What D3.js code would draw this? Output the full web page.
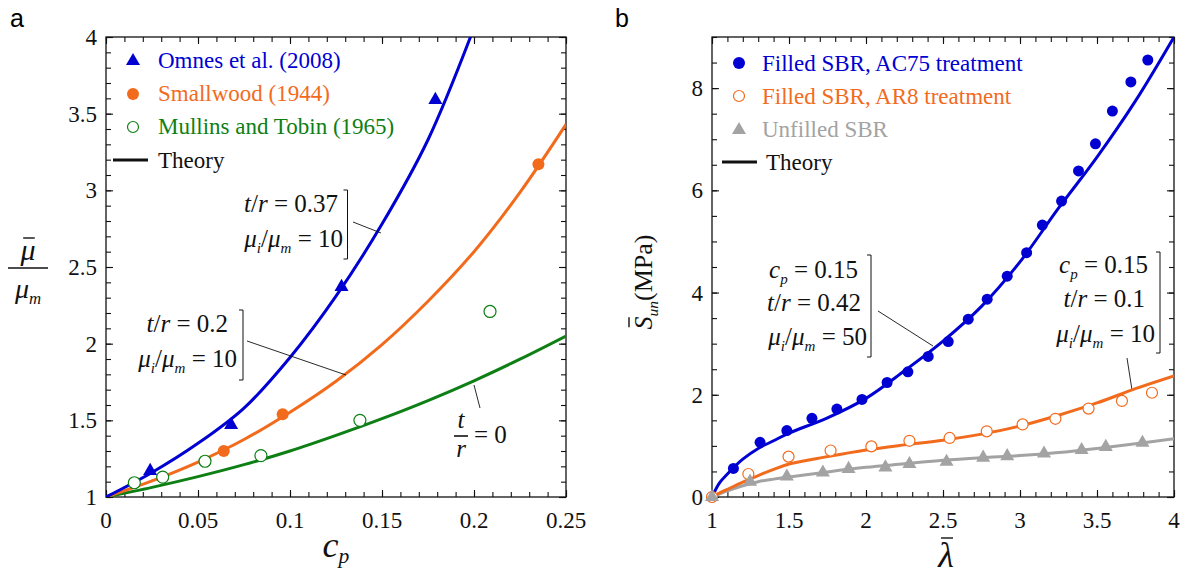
<!DOCTYPE html>
<html>
<head>
<meta charset="utf-8">
<script src="https://cdn.jsdelivr.net/npm/d3@7"></script>
</head>
<body style="margin:0">
<svg id="chart" width="1187" height="575"></svg>
<script>
// ---------- panel a data ----------
var theoryC = [0, 0.025, 0.05, 0.075, 0.1, 0.125, 0.15, 0.175, 0.2, 0.225, 0.25];
var theoryBlueC = [0, 0.025, 0.05, 0.075, 0.1, 0.125, 0.15, 0.175, 0.2];
var theoryBlue = [1, 1.16, 1.35, 1.58, 1.91, 2.31, 2.78, 3.33, 4.06];
var theoryOrange = [1, 1.105, 1.228, 1.375, 1.553, 1.755, 1.994, 2.277, 2.60, 2.987, 3.43];
var theoryGreen = [1, 1.063, 1.133, 1.211, 1.30, 1.402, 1.511, 1.629, 1.758, 1.899, 2.05];

var omnesC = [0.024, 0.068, 0.128, 0.179];
var omnesV = [1.17, 1.47, 2.37, 3.59];
var smallwoodC = [0.064, 0.096, 0.235];
var smallwoodV = [1.30, 1.54, 3.17];
var mullinsC = [0.0154, 0.0308, 0.0538, 0.0842, 0.138, 0.2087];
var mullinsV = [1.093, 1.13, 1.233, 1.27, 1.50, 2.21];

// ---------- panel b data ----------
var theoryL = [1, 1.05, 1.1, 1.2, 1.3, 1.4, 1.5, 1.75, 2, 2.25, 2.5, 2.75, 3, 3.25, 3.5, 3.75, 4];
var theoryAC75 = [0, 0.28, 0.45, 0.74, 0.95, 1.10, 1.25, 1.55, 1.93, 2.47, 3.05, 3.73, 4.6, 5.65, 6.65, 7.75, 9.0];
var theoryAR8 = [0, 0.08, 0.15, 0.29, 0.42, 0.54, 0.645, 0.79, 0.92, 1.02, 1.11, 1.23, 1.39, 1.60, 1.84, 2.12, 2.37];
var theoryUnf = [0, 0.06, 0.12, 0.22, 0.30, 0.35, 0.39, 0.49, 0.58, 0.65, 0.72, 0.77, 0.81, 0.87, 0.95, 1.04, 1.14];

var ac75L = [1, 1.139, 1.312, 1.486, 1.649, 1.811, 1.974, 2.137, 2.272, 2.404, 2.534, 2.664, 2.787, 2.917, 3.043, 3.145, 3.27, 3.38, 3.49, 3.60, 3.72, 3.83];
var ac75S = [0, 0.56, 1.07, 1.30, 1.54, 1.72, 1.91, 2.24, 2.45, 2.75, 3.04, 3.48, 3.87, 4.32, 4.78, 5.32, 5.79, 6.38, 6.91, 7.55, 8.12, 8.55];
var ar8L = [1, 1.236, 1.497, 1.77, 2.035, 2.282, 2.543, 2.784, 3.017, 3.23, 3.445, 3.662, 3.857];
var ar8S = [0, 0.45, 0.79, 0.91, 0.99, 1.10, 1.155, 1.285, 1.42, 1.53, 1.73, 1.88, 2.04];
var unfL = [1, 1.247, 1.486, 1.72, 1.887, 2.126, 2.282, 2.523, 2.761, 2.917, 3.156, 3.40, 3.557, 3.795];
var unfS = [0, 0.30, 0.40, 0.48, 0.55, 0.58, 0.645, 0.69, 0.77, 0.80, 0.85, 0.92, 0.98, 1.06];

var blue = '#0000d2', orange = '#f26b1d', green = '#0d7f14', gray = '#a3a3a3';
var SERIF = 'Liberation Serif';
var SANS = 'Liberation Sans';

var svg = d3.select('#chart');
var fmt = d => String(+d.toFixed(2));
var zip = (xs, ys) => xs.map((x, i) => [x, ys[i]]);

// align by measuring instead of text-anchor
function align(t, x, anchor) {
  var w = t.node().getComputedTextLength();
  var k = anchor === 'middle' ? 0.5 : anchor === 'end' ? 1 : 0;
  t.attr('x', x - k * w);
  return t;
}

// plain serif text
function stext(g, x, y, s, size, anchor, color) {
  var t = g.append('text').attr('x', x).attr('y', y)
    .attr('font-family', SERIF).attr('font-size', size)
    .attr('fill', color || '#111').text(s);
  return align(t, x, anchor);
}

// frame with inward ticks on all four sides, labels drawn from the scales
function frame(g, x, y, xMaj, xMin, yMaj, yMin) {
  var w = x.range()[1], h = y.range()[0];
  var defs = [
    [d3.axisBottom(x), `translate(0,${h})`, xMaj, xMin],
    [d3.axisTop(x), 'translate(0,0)', xMaj, xMin],
    [d3.axisLeft(y), 'translate(0,0)', yMaj, yMin],
    [d3.axisRight(y), `translate(${w},0)`, yMaj, yMin]
  ];
  defs.forEach(([ax, tr, maj, min]) => {
    g.append('g').attr('transform', tr)
      .call(ax.tickValues(min).tickSizeInner(-5).tickSizeOuter(0).tickFormat(''))
      .call(s => s.select('.domain').remove());
    g.append('g').attr('transform', tr)
      .call(ax.tickValues(maj).tickSizeInner(-7).tickSizeOuter(0).tickFormat(''))
      .call(s => s.select('.domain').remove());
  });
  g.selectAll('.tick line').attr('stroke', '#111').attr('stroke-width', 1.1);
  g.selectAll('.tick text').remove();
  xMaj.forEach(v => stext(g, x(v), h + 31, fmt(v), 23, 'middle'));
  yMaj.forEach(v => stext(g, -9, y(v) + 8, fmt(v), 23, 'end'));
  g.append('rect').attr('width', w).attr('height', h)
    .attr('fill', 'none').attr('stroke', '#111').attr('stroke-width', 1.3);
}

// math-ish text helper: parts = [[str, 'i' | 's' | 'is' | '']]
function mtext(g, x, y, parts, size, anchor) {
  var t = g.append('text').attr('x', x).attr('y', y)
    .attr('font-family', SERIF)
    .attr('font-size', size).attr('fill', '#111').attr('xml:space', 'preserve');
  var shift = 0;
  parts.forEach(([s, k]) => {
    var ts = t.append('tspan').text(s);
    if (k.includes('i')) ts.attr('font-style', 'italic');
    if (k.includes('s')) {
      ts.attr('dy', 6 - shift).attr('font-size', size * 0.6);
      shift = 6;
    } else if (shift) {
      ts.attr('dy', -shift); shift = 0;
    }
  });
  return align(t, x, anchor || 'end');
}

// overline over the first glyph of a text element (in its own coordinates)
function overline(t, gap) {
  var b = t.node().getExtentOfChar(0);
  t.select(function () { return this.parentNode; }).append('line')
    .attr('x1', b.x + b.width * 0.18).attr('x2', b.x + b.width * 0.95)
    .attr('y1', b.y + gap).attr('y2', b.y + gap)
    .attr('stroke', '#111').attr('stroke-width', 1.4);
}

function bracket(g, x, y1, y2) {
  g.append('path').attr('d', `M${x - 4},${y1}H${x}V${y2}H${x - 4}`)
    .attr('fill', 'none').attr('stroke', '#111').attr('stroke-width', 1);
}
function leader(g, x1, y1, x2, y2) {
  g.append('line').attr('x1', x1).attr('y1', y1).attr('x2', x2).attr('y2', y2)
    .attr('stroke', '#111').attr('stroke-width', 0.9);
}

/* ---------------- panel a ---------------- */
var gA = svg.append('g').attr('transform', 'translate(106,37)');
var xA = d3.scaleLinear().domain([0, 0.25]).range([0, 460]);
var yA = d3.scaleLinear().domain([1, 4]).range([460, 0]);

frame(gA, xA, yA,
  d3.range(0, 0.2501, 0.05), d3.range(0, 0.2501, 0.01),
  d3.range(1, 4.001, 0.5), d3.range(1, 4.001, 0.1));

gA.append('clipPath').attr('id', 'clipA').append('rect').attr('width', 460).attr('height', 460);

var lineA = d3.line().x(d => xA(d[0])).y(d => yA(d[1])).curve(d3.curveCatmullRom);
var curvesA = gA.append('g').attr('clip-path', 'url(#clipA)');
[[zip(theoryC, theoryGreen), green], [zip(theoryC, theoryOrange), orange], [zip(theoryBlueC, theoryBlue), blue]]
  .forEach(([d, c]) => curvesA.append('path').datum(d).attr('d', lineA)
    .attr('fill', 'none').attr('stroke', c).attr('stroke-width', 3));

var tri = d3.symbol().type(d3.symbolTriangle).size(85);
gA.selectAll('.omnes').data(zip(omnesC, omnesV)).enter().append('path')
  .attr('d', tri).attr('fill', blue)
  .attr('transform', d => `translate(${xA(d[0])},${yA(d[1])})`);
gA.selectAll('.small').data(zip(smallwoodC, smallwoodV)).enter().append('circle')
  .attr('cx', d => xA(d[0])).attr('cy', d => yA(d[1])).attr('r', 6).attr('fill', orange);
gA.selectAll('.mull').data(zip(mullinsC, mullinsV)).enter().append('circle')
  .attr('cx', d => xA(d[0])).attr('cy', d => yA(d[1])).attr('r', 6)
  .attr('fill', '#fff').attr('stroke', green).attr('stroke-width', 1.2);

// legend a
var legA = svg.append('g');
legA.append('path').attr('d', tri).attr('fill', blue).attr('transform', 'translate(133,61)');
legA.append('circle').attr('cx', 133).attr('cy', 94).attr('r', 6).attr('fill', orange);
legA.append('circle').attr('cx', 133).attr('cy', 127).attr('r', 5.5).attr('fill', '#fff').attr('stroke', green).attr('stroke-width', 1.2);
legA.append('line').attr('x1', 113).attr('x2', 148).attr('y1', 160).attr('y2', 160).attr('stroke', '#111').attr('stroke-width', 3);
[['Omnes et al. (2008)', blue, 68], ['Smallwood (1944)', orange, 101], ['Mullins and Tobin (1965)', green, 134], ['Theory', '#111', 168]]
  .forEach(([t, c, y]) => stext(legA, 158, y, t, 23, 'start', c));

// annotations a
var an = svg.append('g');
mtext(an, 338, 212, [['t', 'i'], ['/', ''], ['r', 'i'], [' = 0.37', '']], 25);
mtext(an, 343, 247, [['μ', 'i'], ['i', 'is'], ['/', ''], ['μ', 'i'], ['m', 'is'], [' = 10', '']], 25);
bracket(an, 347.5, 190, 259);
leader(an, 353, 222, 381, 233);

mtext(an, 228, 332, [['t', 'i'], ['/', ''], ['r', 'i'], [' = 0.2', '']], 25);
mtext(an, 237, 367, [['μ', 'i'], ['i', 'is'], ['/', ''], ['μ', 'i'], ['m', 'is'], [' = 10', '']], 25);
bracket(an, 243, 310, 380);
leader(an, 247, 341, 346, 375);

mtext(an, 461, 428, [['t', 'i']], 25, 'middle');
an.append('line').attr('x1', 454).attr('x2', 468).attr('y1', 436).attr('y2', 436).attr('stroke', '#111').attr('stroke-width', 1.6);
mtext(an, 461, 457, [['r', 'i']], 25, 'middle');
mtext(an, 474, 443, [['= 0', '']], 25, 'start');
leader(an, 480, 408, 474, 385);

// axis labels a
align(svg.append('text').attr('y', 27).attr('font-family', SANS).attr('font-size', 25).text('a'), 10, 'start');
var muBar = mtext(svg, 28, 260, [['μ', 'i']], 30, 'middle');
overline(muBar, 5);
svg.append('line').attr('x1', 8).attr('x2', 48).attr('y1', 268).attr('y2', 268).attr('stroke', '#111').attr('stroke-width', 1.6);
mtext(svg, 28, 298, [['μ', 'i'], ['m', 'is']], 28, 'middle');
mtext(svg, 336, 557, [['c', 'i'], ['p', 'is']], 36, 'middle');

/* ---------------- panel b ---------------- */
var gB = svg.append('g').attr('transform', 'translate(712,37)');
var xB = d3.scaleLinear().domain([1, 4]).range([0, 462]);
var yB = d3.scaleLinear().domain([0, 9]).range([460, 0]);

frame(gB, xB, yB,
  d3.range(1, 4.001, 0.5), d3.range(1, 4.001, 0.1),
  d3.range(0, 8.001, 2), d3.range(0, 9.001, 0.5));

gB.append('clipPath').attr('id', 'clipB').append('rect').attr('width', 462).attr('height', 460);
var lineB = d3.line().x(d => xB(d[0])).y(d => yB(d[1])).curve(d3.curveCatmullRom);
var curvesB = gB.append('g').attr('clip-path', 'url(#clipB)');
[[theoryUnf, gray], [theoryAR8, orange], [theoryAC75, blue]]
  .forEach(([v, c]) => curvesB.append('path').datum(zip(theoryL, v)).attr('d', lineB)
    .attr('fill', 'none').attr('stroke', c).attr('stroke-width', 3));

gB.selectAll('.ac75').data(zip(ac75L, ac75S)).enter().append('circle')
  .attr('cx', d => xB(d[0])).attr('cy', d => yB(d[1])).attr('r', 5.5).attr('fill', blue);
gB.selectAll('.ar8').data(zip(ar8L, ar8S)).enter().append('circle')
  .attr('cx', d => xB(d[0])).attr('cy', d => yB(d[1])).attr('r', 5.5)
  .attr('fill', '#fff').attr('stroke', orange).attr('stroke-width', 1.2);
gB.selectAll('.unf').data(zip(unfL, unfS)).enter().append('path')
  .attr('d', tri).attr('fill', gray)
  .attr('transform', d => `translate(${xB(d[0])},${yB(d[1])})`);

// legend b
var legB = svg.append('g');
legB.append('circle').attr('cx', 739).attr('cy', 63).attr('r', 6).attr('fill', blue);
legB.append('circle').attr('cx', 739).attr('cy', 96).attr('r', 5.5).attr('fill', '#fff').attr('stroke', orange).attr('stroke-width', 1.2);
legB.append('path').attr('d', tri).attr('fill', gray).attr('transform', 'translate(739,130)');
legB.append('line').attr('x1', 722).attr('x2', 757).attr('y1', 162).attr('y2', 162).attr('stroke', '#111').attr('stroke-width', 3);
[['Filled SBR, AC75 treatment', blue, 71, 762], ['Filled SBR, AR8 treatment', orange, 104, 762], ['Unfilled SBR', gray, 137, 762], ['Theory', '#111', 170, 766]]
  .forEach(([t, c, y, x]) => stext(legB, x, y, t, 23, 'start', c));

// annotations b
mtext(an, 858, 278, [['c', 'i'], ['p', 'is'], [' = 0.15', '']], 25);
mtext(an, 861, 311, [['t', 'i'], ['/', ''], ['r', 'i'], [' = 0.42', '']], 25);
mtext(an, 867, 345, [['μ', 'i'], ['i', 'is'], ['/', ''], ['μ', 'i'], ['m', 'is'], [' = 50', '']], 25);
bracket(an, 871, 255, 357);
leader(an, 878, 311, 933, 346);

mtext(an, 1148, 273, [['c', 'i'], ['p', 'is'], [' = 0.15', '']], 25);
mtext(an, 1145, 307, [['t', 'i'], ['/', ''], ['r', 'i'], [' = 0.1', '']], 25);
mtext(an, 1155, 342, [['μ', 'i'], ['i', 'is'], ['/', ''], ['μ', 'i'], ['m', 'is'], [' = 10', '']], 25);
bracket(an, 1160, 252, 353);
leader(an, 1127, 358, 1132, 390);

// axis labels b
align(svg.append('text').attr('y', 27).attr('font-family', SANS).attr('font-size', 25).text('b'), 615, 'start');
var yl = svg.append('g').attr('transform', 'translate(652,282) rotate(-90)');
var sLab = mtext(yl, 0, 0, [['S', 'i'], ['un', 'is'], ['(MPa)', '']], 26, 'middle');
overline(sLab, 0);
var lam = mtext(svg, 946, 567, [['λ', 'i']], 36, 'middle');
overline(lam, 3);
</script>
</body>
</html>
